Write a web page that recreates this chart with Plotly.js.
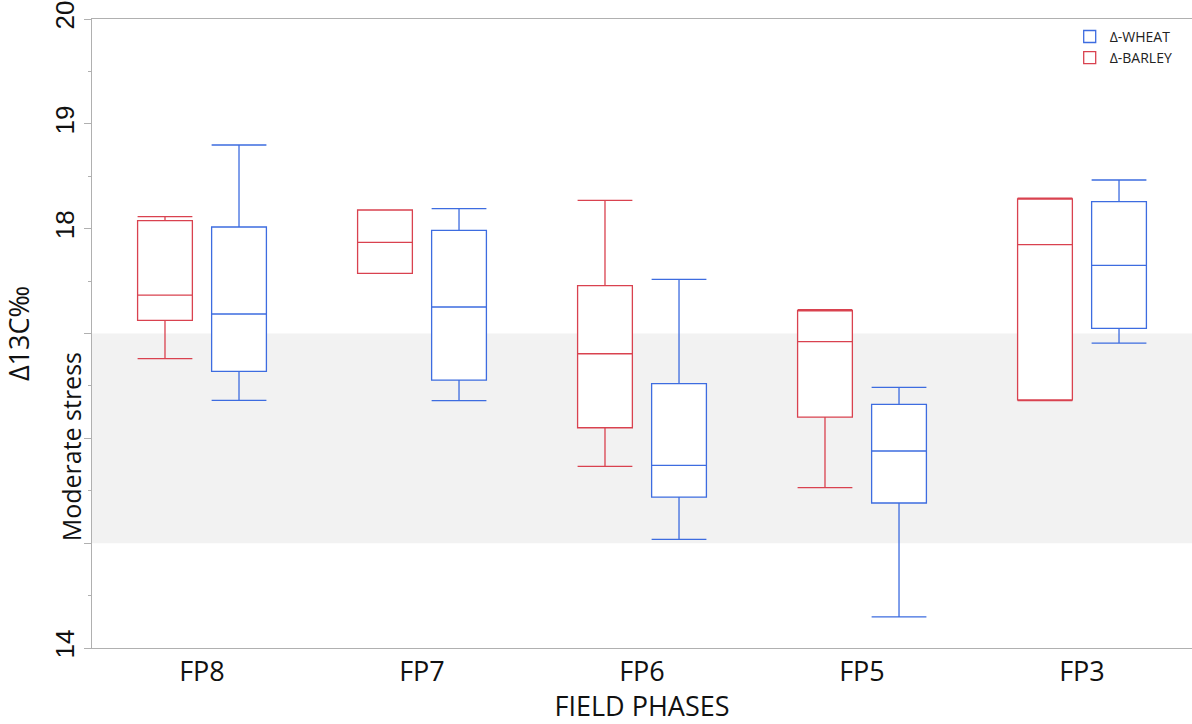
<!DOCTYPE html>
<html>
<head>
<meta charset="utf-8">
<script src="https://cdn.plot.ly/plotly-3.0.1.min.js"></script>
<style>html,body{margin:0;padding:0;background:#fff;}#chart{width:1192px;height:724px;}</style>
</head>
<body>
<div id="chart"></div>
<script>
const phases = ["FP8", "FP7", "FP6", "FP5", "FP3"];

const barleyLower  = [16.760, 17.574, 15.733, 15.529, 16.359];
const barleyQ1     = [17.126, 17.574, 16.101, 16.203, 16.366];
const barleyMedian = [17.367, 17.870, 16.807, 16.922, 17.847];
const barleyQ3     = [18.076, 18.178, 17.456, 17.217, 18.283];
const barleyUpper  = [18.114, 18.178, 18.270, 17.227, 18.292];

const wheatLower  = [16.363, 16.359, 15.036, 14.296, 16.909];
const wheatQ1     = [16.639, 16.556, 15.440, 15.383, 17.049];
const wheatMedian = [17.186, 17.253, 15.742, 15.879, 17.650];
const wheatQ3     = [18.016, 17.984, 16.521, 16.324, 18.257];
const wheatUpper  = [18.798, 18.191, 17.517, 16.486, 18.464];

const yTickVals = [14, 15, 16, 17, 18, 19, 20];
const yTickText = ["14", "", "", "", "18", "19", "20"];

const RED = "#d9424f";
const BLUE = "#3d6ce0";

const traces = [
  {
    type: "box", name: "Δ-BARLEY", x: phases,
    lowerfence: barleyLower, q1: barleyQ1, median: barleyMedian, q3: barleyQ3, upperfence: barleyUpper,
    line: {color: RED, width: 1.3}, fillcolor: "#ffffff", whiskerwidth: 1, hoverinfo: "skip"
  },
  {
    type: "box", name: "Δ-WHEAT", x: phases,
    lowerfence: wheatLower, q1: wheatQ1, median: wheatMedian, q3: wheatQ3, upperfence: wheatUpper,
    line: {color: BLUE, width: 1.3}, fillcolor: "#ffffff", whiskerwidth: 1, hoverinfo: "skip"
  }
];

const layout = {
  width: 1192, height: 724,
  margin: {l: 92, r: 0, t: 19, b: 76},
  paper_bgcolor: "#ffffff", plot_bgcolor: "#ffffff",
  boxmode: "group", boxgap: 0.327, boxgroupgap: 0.26,
  showlegend: true,
  legend: {
    x: 0.987, y: 0.997, xanchor: "right", yanchor: "top",
    traceorder: "reversed", bgcolor: "rgba(0,0,0,0)",
    font: {family: "Open Sans", size: 14, color: "#222"},
    itemwidth: 30, tracegroupgap: 0
  },
  xaxis: {
    type: "category", range: [-0.5, 4.5],
    showline: true, linecolor: "#b0b0b0", linewidth: 1, mirror: true,
    showgrid: false, zeroline: false, ticks: "",
    tickfont: {family: "Open Sans", size: 27, color: "#111"},
    title: {text: "FIELD PHASES", font: {family: "Open Sans", size: 27, color: "#111"}, standoff: 2}
  },
  yaxis: {
    range: [14, 20], tickmode: "array", tickvals: yTickVals, ticktext: yTickText,
    showline: true, linecolor: "#b0b0b0", linewidth: 1,
    showgrid: false, zeroline: false, ticks: "outside", ticklen: 7, tickcolor: "#b0b0b0",
    minor: {dtick: 0.5, ticks: "outside", ticklen: 3, tickcolor: "#b0b0b0", showgrid: false},
    tickangle: -90,
    tickfont: {family: "Liberation Sans", size: 26, color: "#111"},
    title: {text: "Δ13C‰", font: {family: "Open Sans", size: 27, color: "#111"}, standoff: 20}
  },
  shapes: [
    {type: "rect", xref: "paper", yref: "y", x0: 0, x1: 1, y0: 15, y1: 17,
     fillcolor: "#f2f2f2", line: {width: 0}, layer: "below"}
  ],
  annotations: [
    {text: "Moderate stress", xref: "paper", yref: "y", x: 0, y: 16, xshift: -21, yshift: -9,
     xanchor: "center", yanchor: "middle", textangle: -90, showarrow: false,
     font: {family: "Open Sans", size: 25, color: "#111"}}
  ]
};

Plotly.newPlot("chart", traces, layout, {displayModeBar: false, staticPlot: true});
</script>
</body>
</html>
